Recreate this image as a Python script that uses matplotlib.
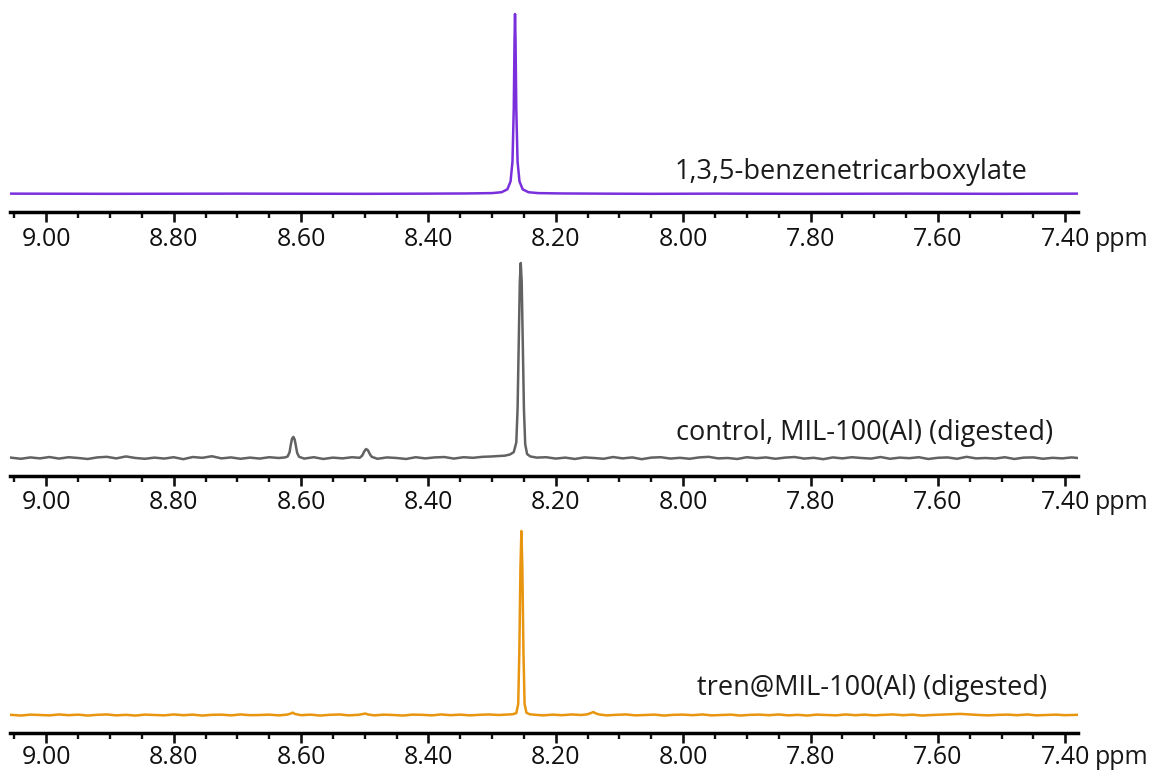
import numpy as np
import matplotlib.pyplot as plt
from matplotlib.ticker import MultipleLocator, FormatStrFormatter

plt.rcParams.update({
    'font.family': ['Open Sans', 'DejaVu Sans'],
    'font.size': 18,
})

W, H = 1167, 774

# =====================================================
# data (ppm, intensity normalised to main peak = 1)
# =====================================================
btc_ppm = [9.056, 8.90, 8.70, 8.50, 8.40, 8.34, 8.30, 8.285, 8.276, 8.271,
           8.268, 8.266, 8.2648, 8.264, 8.2632, 8.262, 8.260, 8.257, 8.252, 8.243,
           8.228, 8.19, 8.13, 8.05, 7.95, 7.80, 7.65, 7.50, 7.38]
btc_int = [0.002, 0.001, 0.002, 0.001, 0.002, 0.003, 0.005, 0.010, 0.026, 0.07,
           0.18, 0.47, 0.85, 1.0, 0.85, 0.47, 0.18, 0.07, 0.026, 0.010,
           0.005, 0.003, 0.002, 0.001, 0.002, 0.001, 0.002, 0.001, 0.002]

ctrl_ppm = [9.056, 9.040, 9.025, 9.010, 8.995, 8.980, 8.965, 8.950, 8.935, 8.920,
            8.905, 8.890, 8.875, 8.860, 8.845, 8.830, 8.815, 8.800, 8.785, 8.770,
            8.755, 8.740, 8.725, 8.710, 8.695, 8.680, 8.665, 8.650, 8.635, 8.625,
            8.621, 8.618, 8.616, 8.614, 8.612, 8.610, 8.608, 8.606, 8.603, 8.595,
            8.580, 8.565, 8.550, 8.535, 8.520, 8.508, 8.504, 8.501, 8.498, 8.495,
            8.492, 8.489, 8.480, 8.465, 8.450, 8.435, 8.420, 8.405, 8.390, 8.375,
            8.360, 8.345, 8.330, 8.315, 8.300, 8.290, 8.280, 8.272, 8.266, 8.262,
            8.260, 8.258, 8.2565, 8.255, 8.2535, 8.252, 8.250, 8.248, 8.245, 8.240,
            8.230, 8.215, 8.200, 8.185, 8.170, 8.155, 8.140, 8.125, 8.110, 8.095,
            8.080, 8.065, 8.050, 8.035, 8.020, 8.005, 7.990, 7.975, 7.960, 7.945,
            7.930, 7.915, 7.900, 7.885, 7.870, 7.855, 7.840, 7.825, 7.810, 7.795,
            7.780, 7.765, 7.750, 7.735, 7.720, 7.705, 7.690, 7.675, 7.660, 7.645,
            7.630, 7.615, 7.600, 7.585, 7.570, 7.555, 7.540, 7.525, 7.510, 7.495,
            7.480, 7.465, 7.450, 7.435, 7.420, 7.405, 7.390, 7.380]
ctrl_int = [0.002, -0.004, 0.003, -0.002, 0.005, -0.003, 0.004, 0.000, -0.005, 0.003,
            0.006, -0.002, 0.008, 0.000, -0.004, 0.002, -0.003, 0.004, -0.006, 0.005,
            0.001, 0.009, -0.002, 0.003, -0.004, 0.002, -0.003, 0.004, 0.000, 0.003,
            0.008, 0.03, 0.07, 0.10, 0.108, 0.095, 0.06, 0.025, 0.006, -0.003,
            0.004, -0.005, 0.002, -0.002, 0.004, 0.001, 0.012, 0.032, 0.046, 0.040,
            0.020, 0.006, -0.004, 0.003, 0.000, -0.005, 0.004, -0.002, 0.003, 0.005,
            -0.003, 0.004, 0.001, 0.006, 0.008, 0.010, 0.012, 0.018, 0.030, 0.08,
            0.25, 0.62, 0.90, 1.0, 0.90, 0.62, 0.25, 0.07, 0.02, 0.008,
            0.002, 0.004, -0.003, 0.002, -0.005, 0.003, 0.000, -0.004, 0.005, -0.002,
            0.003, -0.006, 0.002, 0.004, -0.003, 0.001, -0.004, 0.003, 0.006, -0.002,
            0.000, -0.005, 0.004, -0.001, 0.003, -0.004, 0.002, 0.005, -0.003, 0.001,
            -0.006, 0.003, -0.002, 0.004, 0.000, -0.003, 0.005, -0.004, 0.002, -0.001,
            0.004, -0.005, 0.001, 0.003, -0.004, 0.006, -0.002, 0.000, -0.003, 0.004,
            -0.005, 0.002, 0.003, -0.004, 0.001, -0.002, 0.003, 0.000]

tren_ppm = [9.056, 9.040, 9.025, 9.010, 8.995, 8.980, 8.965, 8.950, 8.935, 8.920,
            8.905, 8.890, 8.875, 8.860, 8.845, 8.830, 8.815, 8.800, 8.785, 8.770,
            8.755, 8.740, 8.725, 8.710, 8.695, 8.680, 8.665, 8.650, 8.635, 8.622,
            8.616, 8.613, 8.610, 8.600, 8.585, 8.570, 8.555, 8.540, 8.525, 8.510,
            8.503, 8.499, 8.495, 8.485, 8.470, 8.455, 8.440, 8.425, 8.410, 8.395,
            8.380, 8.365, 8.350, 8.335, 8.320, 8.305, 8.290, 8.278, 8.268, 8.262,
            8.259, 8.2572, 8.2555, 8.254, 8.2525, 8.2508, 8.249, 8.246, 8.241, 8.232,
            8.220, 8.205, 8.190, 8.175, 8.160, 8.150, 8.144, 8.141, 8.138, 8.132,
            8.120, 8.105, 8.090, 8.075, 8.060, 8.045, 8.030, 8.015, 8.000, 7.985,
            7.970, 7.955, 7.940, 7.925, 7.910, 7.895, 7.880, 7.865, 7.850, 7.835,
            7.820, 7.805, 7.790, 7.775, 7.760, 7.745, 7.730, 7.715, 7.700, 7.685,
            7.670, 7.655, 7.640, 7.625, 7.610, 7.595, 7.580, 7.565, 7.550, 7.535,
            7.520, 7.505, 7.490, 7.475, 7.460, 7.445, 7.430, 7.415, 7.400, 7.380]
tren_int = [0.001, -0.003, 0.002, 0.000, -0.002, 0.003, -0.001, 0.002, -0.003, 0.001,
            0.003, -0.002, 0.001, -0.003, 0.002, 0.000, -0.002, 0.003, -0.001, 0.002,
            -0.003, 0.001, 0.002, -0.002, 0.003, -0.001, 0.000, 0.002, -0.002, 0.002,
            0.008, 0.013, 0.006, -0.001, 0.002, -0.003, 0.001, 0.003, -0.002, 0.001,
            0.005, 0.008, 0.003, -0.002, 0.002, 0.000, -0.003, 0.002, 0.001, -0.002,
            0.003, -0.001, 0.002, -0.002, 0.001, 0.003, 0.000, 0.002, 0.004, 0.010,
            0.06, 0.35, 0.80, 1.0, 0.80, 0.35, 0.06, 0.012, 0.004, 0.001,
            -0.002, 0.002, -0.001, 0.003, 0.000, 0.004, 0.012, 0.016, 0.010, 0.003,
            -0.002, 0.001, 0.003, -0.002, 0.000, 0.002, -0.003, 0.001, 0.002, -0.001,
            0.003, -0.002, 0.000, 0.002, -0.003, 0.001, 0.002, -0.001, 0.003, -0.002,
            0.001, -0.003, 0.002, 0.000, -0.002, 0.003, -0.001, 0.002, -0.002, 0.001,
            0.003, -0.001, 0.002, -0.003, 0.000, 0.002, 0.004, 0.006, 0.003, 0.000,
            -0.002, 0.001, 0.002, -0.001, 0.003, -0.002, 0.000, 0.002, -0.001, 0.001]

labels = ['1,3,5-benzenetricarboxylate',
          'control, MIL-100(Al) (digested)',
          'tren@MIL-100(Al) (digested)']
colors = ['#7a2fdc', '#626262', '#e8950f']
XLIM = (9.057, 7.38)

# pixel layout: axes top, spine, baseline, peak top, label centre (x, y), tick pad
panels = [
    (btc_ppm, btc_int, 8, 212, 194, 14, (851, 172), 4),
    (ctrl_ppm, ctrl_int, 255, 476, 458, 263, (865, 433), 3),
    (tren_ppm, tren_int, 520, 733, 715, 531, (872, 688), 2),
]

fig = plt.figure(figsize=(W / 100, H / 100), dpi=100)

for (ppm, inten, top, spine, base, peak, lab_xy, pad), lab, col in zip(panels, labels, colors):
    scale = base - peak
    b0 = (spine - base) / scale
    ax = fig.add_axes([10 / W, 1 - spine / H, 1068 / W, (spine - top) / H])
    ax.plot(ppm, inten, color=col, lw=1.8, solid_joinstyle='round')
    ax.set_xlim(*XLIM)
    ax.set_ylim(-b0, (spine - top) / scale - b0)
    for s in ['top', 'left', 'right']:
        ax.spines[s].set_visible(False)
    ax.spines['bottom'].set_linewidth(2.5)
    ax.set_yticks([])
    ax.xaxis.set_major_locator(MultipleLocator(0.2))
    ax.xaxis.set_minor_locator(MultipleLocator(0.05))
    ax.xaxis.set_major_formatter(FormatStrFormatter('%.2f'))
    ax.tick_params(axis='x', which='major', direction='out', length=7, width=1.9,
                   labelsize=18, pad=pad, colors='#111111')
    ax.tick_params(axis='x', which='minor', direction='out', length=4, width=1.7,
                   colors='#111111')
    fig.text(lab_xy[0] / W, 1 - lab_xy[1] / H, lab, ha='center', va='center',
             fontsize=19.5, color='#1a1a1a')
    fig.text(1095 / W, 1 - (spine + 22 + pad * 1.4) / H, 'ppm', ha='left', va='center',
             fontsize=18, color='#1a1a1a')

fig.savefig('out.png', dpi=100)
